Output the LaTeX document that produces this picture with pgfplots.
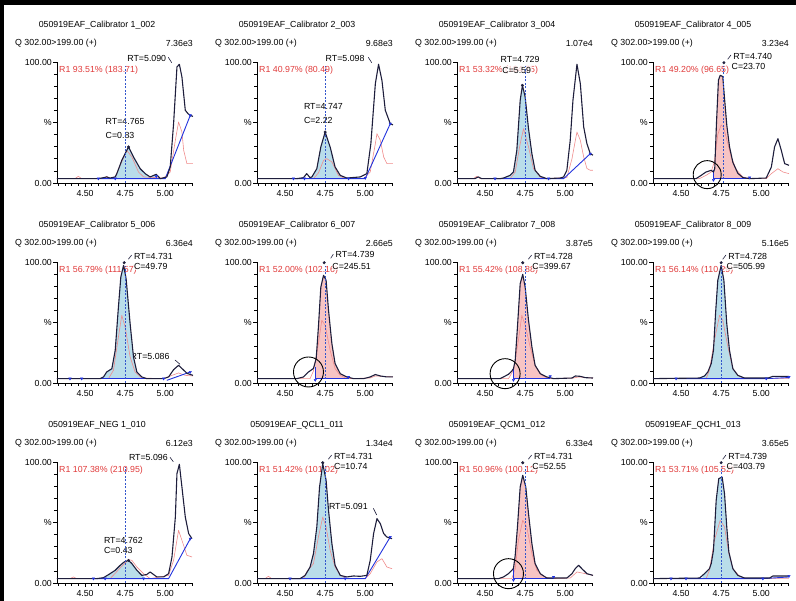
\documentclass[border=0pt]{standalone}
\usepackage{fontspec}
\setmainfont{Liberation Sans}
\usepackage{pgfplots}
\pgfplotsset{compat=1.18}
\definecolor{trace}{HTML}{1E1E3C}
\definecolor{qual}{HTML}{F08C8C}
\definecolor{bl}{HTML}{2233DD}
\definecolor{fillb}{HTML}{B9DDEA}
\definecolor{fillp}{HTML}{F7C4C4}
\definecolor{rtext}{HTML}{E03A3A}
\definecolor{dashc}{HTML}{3355CC}
\newcommand\fs{\fontsize{8.8}{10}\selectfont}
\newcommand\px[2]{({#1},{601-(#2)})}
\tikzset{lab/.style={font=\fs, inner sep=0pt, text=black},
 ann/.style={lab, anchor=west, fill=white, fill opacity=0.75, text opacity=1, inner sep=0.5pt}}
\newcommand\ptext[5]{%
  \node[lab] at \px{#1+97}{#2+25} {#3};
  \node[lab,anchor=west] at \px{#1+15}{#2+43} {Q 302.00>199.00 (+)};
  \node[lab,anchor=east] at \px{#1+193}{#2+43} {#4};
  \node[lab,anchor=west,text=rtext] at \px{#1+59}{#2+70} {#5};
}
\pgfplotsset{
 chrom/.style={
  scale only axis, width=136pt, height=121pt, anchor=south west,
  xmin=4.325, xmax=5.173, ymin=0, ymax=100,
  axis x line*=bottom, axis y line*=left,
  axis line style={black, line width=0.8pt, -},
  xtick={4.5,4.75,5.0}, xticklabels={4.50,4.75,5.00},
  minor xtick={4.3333,4.375,4.4167,4.4583,4.5417,4.5833,4.625,4.6667,4.7083,4.7917,4.8333,4.875,4.9167,4.9583,5.0417,5.0833,5.125,5.1667},
  ytick={0,50,100}, yticklabels={0.00,\%,100.00},
  minor ytick={10,20,30,40,60,70,80,90},
  tick align=outside, major tick length=4pt, minor tick length=3pt,
  tick style={black, line width=0.6pt},
  ticklabel style={font=\fs},
  yticklabel style={inner sep=1pt},
  /pgf/number format/assume math mode=true,
  clip=false},
 tr/.style={color=trace, line width=1.1pt, line join=round},
 qu/.style={color=qual, line width=0.6pt, line join=round},
 bs/.style={color=bl, line width=0.9pt},
 fb/.style={fill=fillb, draw=none},
 fp/.style={fill=fillp, draw=none},
 ds/.style={color=dashc, line width=0.6pt, dash pattern=on 2pt off 1.5pt},
 pk/.style={only marks, mark=*, mark size=1.3pt, color=trace},
 bm/.style={only marks, mark=triangle*, mark size=1.4pt, color=bl, mark options={rotate=180}},
}
\begin{document}
\begin{tikzpicture}[x=1pt,y=1pt]
\useasboundingbox (0,0) rectangle (796,601);
\fill[black] (0,596) rectangle (796,601);
\fill[black] (0,0) rectangle (4,601);
% ---------- texts ----------
\ptext{0}{0}{050919EAF\_Calibrator 1\_002}{7.36e3}{R1 93.51\% (183.71)}
\ptext{200}{0}{050919EAF\_Calibrator 2\_003}{9.68e3}{R1 40.97\% (80.49)}
\ptext{400}{0}{050919EAF\_Calibrator 3\_004}{1.07e4}{R1 53.32\% (104.75)}
\ptext{596}{0}{050919EAF\_Calibrator 4\_005}{3.23e4}{R1 49.20\% (96.65)}
\ptext{0}{200}{050919EAF\_Calibrator 5\_006}{6.36e4}{R1 56.79\% (111.57)}
\ptext{200}{200}{050919EAF\_Calibrator 6\_007}{2.66e5}{R1 52.00\% (102.16)}
\ptext{400}{200}{050919EAF\_Calibrator 7\_008}{3.87e5}{R1 55.42\% (108.88)}
\ptext{596}{200}{050919EAF\_Calibrator 8\_009}{5.16e5}{R1 56.14\% (110.29)}
\ptext{0}{400}{050919EAF\_NEG 1\_010}{6.12e3}{R1 107.38\% (210.95)}
\ptext{200}{400}{050919EAF\_QCL1\_011}{1.34e4}{R1 51.42\% (101.02)}
\ptext{400}{400}{050919EAF\_QCM1\_012}{6.33e4}{R1 50.96\% (100.12)}
\ptext{596}{400}{050919EAF\_QCH1\_013}{3.65e5}{R1 53.71\% (105.52)}
% annotations
\node[ann] at \px{126.7}{58.3} {RT=5.090};
\draw[trace,line width=0.6pt] \px{168.3}{57.3} -- \px{171.7}{62.7};
\node[ann] at \px{105}{121.7} {RT=4.765};
\node[ann] at \px{105}{135} {C=0.83};
\node[ann] at \px{325}{58.3} {RT=5.098};
\draw[trace,line width=0.6pt] \px{368.3}{57.3} -- \px{371.7}{62.7};
\node[ann] at \px{303.3}{106.7} {RT=4.747};
\node[ann] at \px{303.3}{120} {C=2.22};
\node[ann] at \px{500}{59.3} {RT=4.729};
\node[ann] at \px{501.7}{70} {C=5.59};
\node[ann] at \px{732.7}{56} {RT=4.740};
\draw[trace,line width=0.6pt] \px{727.7}{59.3} -- \px{731}{55};
\node[ann] at \px{731}{66.7} {C=23.70};
\node[ann] at \px{133.3}{256} {RT=4.731};
\draw[trace,line width=0.6pt] \px{128.3}{259.3} -- \px{131.7}{255};
\node[ann] at \px{133.3}{266.7} {C=49.79};
\node[ann] at \px{130}{356.7} {RT=5.086};
\draw[trace,line width=0.6pt] \px{175}{360} -- \px{180}{364.3};
\node[ann] at \px{335}{254.3} {RT=4.739};
\draw[trace,line width=0.6pt] \px{330.7}{258.3} -- \px{333.3}{254.3};
\node[ann] at \px{331.7}{266.7} {C=245.51};
\node[ann] at \px{533.3}{256} {RT=4.728};
\draw[trace,line width=0.6pt] \px{528.3}{259.3} -- \px{531.7}{255};
\node[ann] at \px{531.7}{266.7} {C=399.67};
\node[ann] at \px{727.7}{256} {RT=4.728};
\draw[trace,line width=0.6pt] \px{722.7}{259.3} -- \px{726}{255};
\node[ann] at \px{726}{266.7} {C=505.99};
\node[ann] at \px{128.3}{457.3} {RT=5.096};
\draw[trace,line width=0.6pt] \px{170}{457.3} -- \px{173.3}{461.7};
\node[ann] at \px{103.3}{540} {RT=4.762};
\node[ann] at \px{103.3}{550} {C=0.43};
\node[ann] at \px{333.3}{456} {RT=4.731};
\draw[trace,line width=0.6pt] \px{328.3}{459.3} -- \px{331.7}{455};
\node[ann] at \px{333.3}{466.7} {C=10.74};
\node[ann] at \px{328.3}{506.7} {RT=5.091};
\draw[trace,line width=0.6pt] \px{373.3}{508.3} -- \px{376.7}{515};
\node[ann] at \px{533.3}{456} {RT=4.731};
\draw[trace,line width=0.6pt] \px{528.3}{459.3} -- \px{531.7}{455};
\node[ann] at \px{531.7}{466.7} {C=52.55};
\node[ann] at \px{727.7}{456} {RT=4.739};
\draw[trace,line width=0.6pt] \px{722.7}{459.3} -- \px{726}{455};
\node[ann] at \px{726}{466.7} {C=403.79};
% ---------- Panel 1 ----------
\begin{axis}[chrom, at={(57pt,418pt)}]
\addplot[fb] coordinates {(4.688,3.6)(4.698,7.7)(4.729,18.7)(4.771,29.8)(4.802,21.5)(4.844,11.8)(4.875,7.7)(4.906,5.0)(4.944,7.2)(4.944,3.6)} --cycle;
\addplot[qu] coordinates {(4.325,3.6)(4.437,3.6)(4.458,5.5)(4.479,3.6)(4.615,3.6)(4.635,5.5)(4.656,3.6)(4.688,5.0)(4.719,14.6)(4.760,27.0)(4.792,21.5)(4.833,9.1)(4.865,5.0)(4.990,4.1)(5.031,9.1)(5.063,35.3)(5.083,50.4)(5.104,42.1)(5.115,27.0)(5.135,16.0)(5.156,16.0)(5.173,16.0)};
\addplot[bs] coordinates {(4.583,3.6)(5.000,3.6)(5.156,55.9)};
\addplot[tr] coordinates {(4.325,3.6)(4.583,3.6)(4.615,4.4)(4.635,5.0)(4.656,4.1)(4.688,5.0)(4.698,7.7)(4.729,18.7)(4.771,29.8)(4.802,21.5)(4.844,11.8)(4.875,7.7)(4.906,5.0)(4.944,7.2)(4.969,3.6)(5.010,5.0)(5.031,13.2)(5.052,49.0)(5.073,95.9)(5.088,98.1)(5.104,87.6)(5.125,60.1)(5.142,57.3)(5.156,55.9)(5.173,55.0)};
\addplot[ds] coordinates {(4.75,0)(4.75,97)};
\addplot[pk] coordinates {(4.771,29.8)};
\addplot[bm] coordinates {(4.583,3.6)(4.688,3.6)(4.944,5.5)(5.156,55.9)};
\end{axis}
% ---------- Panel 2 ----------
\begin{axis}[chrom, at={(257pt,418pt)}]
\addplot[fb] coordinates {(4.667,3.6)(4.667,5.0)(4.698,11.8)(4.723,29.8)(4.750,42.1)(4.781,29.8)(4.812,13.2)(4.844,6.3)(4.885,4.1)(4.896,3.6)} --cycle;
\addplot[qu] coordinates {(4.325,3.6)(4.677,3.6)(4.708,8.3)(4.740,18.7)(4.760,20.1)(4.792,17.4)(4.833,6.3)(4.875,3.6)(4.990,3.6)(5.031,9.1)(5.063,32.5)(5.073,40.8)(5.094,35.3)(5.115,21.5)(5.135,16.0)(5.173,16.0)};
\addplot[bs] coordinates {(4.552,3.6)(5.000,3.6)(5.156,49.0)};
\addplot[tr] coordinates {(4.325,3.6)(4.573,3.6)(4.615,4.4)(4.635,7.7)(4.656,4.4)(4.667,5.0)(4.698,11.8)(4.723,29.8)(4.750,42.1)(4.781,29.8)(4.812,13.2)(4.844,6.3)(4.885,4.1)(4.969,5.0)(5.010,7.7)(5.035,32.5)(5.063,82.1)(5.083,98.1)(5.104,84.8)(5.125,60.1)(5.156,49.0)(5.173,48.0)};
\addplot[ds] coordinates {(4.75,0)(4.75,97)};
\addplot[pk] coordinates {(4.750,42.1)};
\addplot[bm] coordinates {(4.552,3.6)(4.621,3.6)(4.896,3.6)(5.000,4.1)(5.156,49.0)};
\end{axis}
% ---------- Panel 3 ----------
\begin{axis}[chrom, at={(457pt,418pt)}]
\addplot[fb] coordinates {(4.615,3.6)(4.615,4.1)(4.656,6.3)(4.677,9.1)(4.698,27.0)(4.719,68.3)(4.733,80.7)(4.750,71.1)(4.771,44.9)(4.792,24.2)(4.812,10.5)(4.844,5.5)(4.885,3.6)} --cycle;
\addplot[qu] coordinates {(4.325,3.6)(4.427,3.6)(4.448,5.5)(4.469,3.6)(4.656,3.6)(4.688,9.1)(4.719,32.5)(4.740,44.9)(4.771,29.8)(4.802,11.8)(4.844,5.0)(4.875,3.6)(5.010,4.4)(5.042,20.1)(5.063,35.3)(5.073,42.1)(5.094,35.3)(5.115,21.5)(5.135,12.0)(5.156,10.5)(5.173,10.5)};
\addplot[bs] coordinates {(4.562,3.6)(4.990,3.6)(5.156,24.2)};
\addplot[tr] coordinates {(4.325,3.6)(4.437,3.6)(4.458,5.0)(4.479,3.6)(4.594,3.6)(4.615,4.1)(4.656,6.3)(4.677,9.1)(4.698,27.0)(4.719,68.3)(4.733,80.7)(4.750,71.1)(4.771,44.9)(4.792,24.2)(4.812,10.5)(4.844,5.5)(4.885,3.6)(4.969,4.1)(4.990,5.0)(5.010,10.5)(5.031,35.3)(5.048,68.3)(5.073,98.1)(5.094,82.1)(5.115,46.3)(5.135,32.5)(5.156,24.2)(5.173,23.0)};
\addplot[ds] coordinates {(4.75,0)(4.75,97)};
\addplot[pk] coordinates {(4.733,80.7)};
\addplot[bm] coordinates {(4.562,3.6)(4.896,3.6)(5.156,24.2)};
\end{axis}
% ---------- Panel 4 ----------
\begin{axis}[chrom, at={(653pt,418pt)}]
\addplot[fp] coordinates {(4.702,3.6)(4.702,9.0)(4.710,12.0)(4.721,50.0)(4.733,85.0)(4.744,89.0)(4.760,88.0)(4.771,70.0)(4.785,48.0)(4.802,30.0)(4.823,17.0)(4.854,8.0)(4.885,4.5)(4.927,3.6)} --cycle;
\addplot[qu] coordinates {(4.325,3.6)(4.615,3.6)(4.656,6.3)(4.688,9.1)(4.708,18.0)(4.729,40.0)(4.750,48.0)(4.765,46.0)(4.785,36.0)(4.812,22.0)(4.844,11.0)(4.885,5.0)(4.927,3.6)(5.031,3.6)(5.063,7.7)(5.104,11.8)(5.135,9.1)(5.173,7.7)};
\addplot[bs] coordinates {(4.702,10.5)(4.702,3.6)(4.927,3.6)};
\addplot[tr] coordinates {(4.325,3.6)(4.594,3.6)(4.625,6.3)(4.656,9.1)(4.688,10.5)(4.702,9.0)(4.710,12.0)(4.721,50.0)(4.733,85.0)(4.744,89.0)(4.760,88.0)(4.771,70.0)(4.785,48.0)(4.802,30.0)(4.823,17.0)(4.854,8.0)(4.885,4.5)(4.927,3.6)(5.031,4.1)(5.063,13.2)(5.083,29.8)(5.104,36.6)(5.125,27.0)(5.146,16.0)(5.173,14.6)};
\addplot[ds] coordinates {(4.765,0)(4.765,97)};
\addplot[pk] coordinates {(4.767,99.4)};
\addplot[bm] coordinates {(4.702,2.5)(4.927,4.5)};
\draw[black, line width=0.9pt] (axis cs:4.663,6.9) circle[radius=14pt];
\end{axis}
% ---------- Panel 5 ----------
\begin{axis}[chrom, at={(57pt,218pt)}]
\addplot[fb] coordinates {(4.594,3.6)(4.615,5.0)(4.635,9.1)(4.667,11.8)(4.688,27.0)(4.708,62.8)(4.723,87.6)(4.740,97.2)(4.756,86.2)(4.781,49.0)(4.802,21.5)(4.823,9.1)(4.854,5.0)(4.854,3.6)} --cycle;
\addplot[qu] coordinates {(4.325,3.6)(4.646,3.6)(4.677,10.5)(4.708,38.0)(4.729,55.9)(4.750,46.3)(4.781,21.5)(4.812,9.1)(4.854,4.1)(4.990,3.6)(5.042,6.3)(5.083,8.3)(5.125,6.3)(5.173,5.8)};
\addplot[bs] coordinates {(4.469,3.6)(4.990,3.6)};
\addplot[bs] coordinates {(5.010,2.2)(5.156,9.1)};
\addplot[tr] coordinates {(4.325,3.6)(4.594,3.6)(4.615,5.0)(4.635,9.1)(4.667,11.8)(4.688,27.0)(4.708,62.8)(4.723,87.6)(4.740,97.2)(4.756,86.2)(4.781,49.0)(4.802,21.5)(4.823,9.1)(4.854,5.0)(4.885,3.6)(4.990,3.6)(5.021,5.0)(5.052,11.0)(5.083,14.6)(5.104,12.0)(5.135,8.0)(5.173,6.3)};
\addplot[ds] coordinates {(4.75,0)(4.75,97)};
\addplot[pk] coordinates {(4.744,99.4)};
\addplot[bm] coordinates {(4.406,3.6)(4.479,3.6)(4.990,3.6)(5.156,9.1)};
\end{axis}
% ---------- Panel 6 ----------
\begin{axis}[chrom, at={(257pt,218pt)}]
\addplot[fp] coordinates {(4.688,3.6)(4.688,15.0)(4.694,20.1)(4.708,46.3)(4.723,79.3)(4.740,89.0)(4.756,84.8)(4.771,60.1)(4.792,32.5)(4.812,16.0)(4.844,7.7)(4.885,5.0)(4.896,4.5)(4.896,3.6)} --cycle;
\addplot[qu] coordinates {(4.325,3.6)(4.656,3.6)(4.677,9.9)(4.708,32.5)(4.729,51.8)(4.750,47.7)(4.781,27.0)(4.812,11.8)(4.844,6.3)(4.885,3.6)(5.031,4.1)(5.063,5.8)(5.173,5.0)};
\addplot[bs] coordinates {(4.688,13.0)(4.688,3.6)(4.896,3.6)};
\addplot[tr] coordinates {(4.325,3.6)(4.573,3.6)(4.615,5.0)(4.646,9.1)(4.677,12.0)(4.694,20.1)(4.708,46.3)(4.723,79.3)(4.740,89.0)(4.756,84.8)(4.771,60.1)(4.792,32.5)(4.812,16.0)(4.844,7.7)(4.885,5.0)(4.927,3.6)(4.990,3.6)(5.031,5.0)(5.063,7.0)(5.094,5.8)(5.135,5.0)(5.173,5.0)};
\addplot[ds] coordinates {(4.75,0)(4.75,97)};
\addplot[pk] coordinates {(4.744,99.4)};
\addplot[bm] coordinates {(4.688,2.5)(4.896,5.0)};
\draw[black, line width=0.9pt] (axis cs:4.646,9.1) circle[radius=15pt];
\end{axis}
% ---------- Panel 7 ----------
\begin{axis}[chrom, at={(457pt,218pt)}]
\addplot[fp] coordinates {(4.677,3.6)(4.677,11.8)(4.688,18.7)(4.702,46.3)(4.719,82.1)(4.735,89.8)(4.750,79.3)(4.771,51.8)(4.792,29.8)(4.812,14.6)(4.844,7.7)(4.885,5.0)(4.906,4.4)(4.906,3.6)} --cycle;
\addplot[qu] coordinates {(4.325,3.6)(4.646,3.6)(4.677,10.5)(4.708,35.3)(4.729,55.9)(4.750,48.0)(4.781,29.8)(4.812,14.6)(4.854,6.3)(4.896,3.6)(5.052,4.1)(5.083,5.0)(5.173,4.1)};
\addplot[bs] coordinates {(4.677,11.8)(4.677,3.6)(4.906,3.6)};
\addplot[tr] coordinates {(4.325,3.6)(4.594,3.6)(4.615,5.0)(4.646,7.2)(4.667,9.9)(4.677,11.8)(4.688,18.7)(4.702,46.3)(4.719,82.1)(4.735,89.8)(4.750,79.3)(4.771,51.8)(4.792,29.8)(4.812,14.6)(4.844,7.7)(4.885,5.0)(4.927,3.6)(5.042,4.1)(5.063,5.8)(5.094,5.5)(5.125,4.4)(5.173,4.1)};
\addplot[ds] coordinates {(4.75,0)(4.75,97)};
\addplot[pk] coordinates {(4.735,99.4)};
\addplot[bm] coordinates {(4.677,2.5)(4.906,5.5)};
\draw[black, line width=0.9pt] (axis cs:4.625,7.7) circle[radius=15pt];
\end{axis}
% ---------- Panel 8 ----------
\begin{axis}[chrom, at={(653pt,218pt)}]
\addplot[fb] coordinates {(4.625,3.6)(4.625,4.5)(4.646,5.8)(4.667,9.1)(4.688,16.0)(4.702,27.0)(4.715,57.3)(4.729,84.8)(4.750,97.2)(4.767,84.8)(4.785,49.0)(4.802,27.0)(4.823,11.8)(4.854,6.3)(4.896,4.1)(4.896,3.6)} --cycle;
\addplot[qu] coordinates {(4.325,3.6)(4.656,3.6)(4.677,10.5)(4.708,35.3)(4.740,55.9)(4.760,51.8)(4.792,29.8)(4.823,11.8)(4.854,6.3)(4.896,3.6)(5.173,3.6)};
\addplot[bs] coordinates {(4.469,3.6)(5.031,3.6)(5.173,4.5)};
\addplot[tr] coordinates {(4.325,3.6)(4.615,4.1)(4.646,5.8)(4.667,9.1)(4.688,16.0)(4.702,27.0)(4.715,57.3)(4.729,84.8)(4.750,97.2)(4.767,84.8)(4.785,49.0)(4.802,27.0)(4.823,11.8)(4.854,6.3)(4.896,4.1)(5.042,4.1)(5.073,5.5)(5.173,5.5)};
\addplot[ds] coordinates {(4.75,0)(4.75,97)};
\addplot[pk] coordinates {(4.750,99.4)};
\addplot[bm] coordinates {(4.469,3.6)(5.031,3.6)(5.173,5.0)};
\end{axis}
% ---------- Panel 9 ----------
\begin{axis}[chrom, at={(57pt,18pt)}]
\addplot[fb] coordinates {(4.625,3.6)(4.625,4.8)(4.656,7.7)(4.688,10.5)(4.719,14.6)(4.744,17.4)(4.771,18.7)(4.792,16.0)(4.823,10.5)(4.854,6.3)(4.865,6.5)(4.865,3.6)} --cycle;
\addplot[qu] coordinates {(4.325,3.6)(4.406,3.6)(4.427,5.0)(4.448,3.6)(4.656,3.6)(4.688,8.0)(4.719,12.5)(4.771,19.3)(4.792,18.7)(4.823,13.2)(4.865,7.7)(4.906,3.6)(5.021,6.3)(5.052,18.7)(5.083,43.5)(5.104,35.3)(5.135,22.9)(5.167,21.5)};
\addplot[bs] coordinates {(4.552,3.6)(5.021,3.6)(5.156,36.6)};
\addplot[tr] coordinates {(4.325,3.6)(4.573,3.6)(4.615,4.4)(4.656,7.7)(4.688,10.5)(4.719,14.6)(4.744,17.4)(4.771,18.7)(4.792,16.0)(4.823,10.5)(4.854,6.3)(4.885,7.0)(4.906,9.1)(4.927,7.0)(4.948,5.0)(4.990,5.0)(5.021,7.7)(5.042,21.5)(5.063,54.5)(5.073,90.4)(5.088,98.1)(5.104,79.3)(5.125,54.5)(5.146,40.8)(5.167,36.6)};
\addplot[ds] coordinates {(4.75,0)(4.75,96)};
\addplot[pk] coordinates {(4.771,18.7)};
\addplot[bm] coordinates {(4.552,3.6)(4.625,3.6)(4.865,3.6)(5.156,36.6)};
\end{axis}
% ---------- Panel 10 ----------
\begin{axis}[chrom, at={(257pt,18pt)}]
\addplot[fb] coordinates {(4.594,3.6)(4.625,6.3)(4.656,13.2)(4.677,24.2)(4.698,46.3)(4.715,79.3)(4.735,98.6)(4.756,84.8)(4.771,60.1)(4.792,32.5)(4.812,14.6)(4.844,6.3)(4.875,5.0)(4.875,3.6)} --cycle;
\addplot[qu] coordinates {(4.325,3.6)(4.375,3.6)(4.396,5.5)(4.417,3.6)(4.615,3.6)(4.635,9.1)(4.677,16.0)(4.708,38.0)(4.735,54.5)(4.756,46.3)(4.781,27.0)(4.812,13.2)(4.844,6.3)(4.885,3.6)(5.000,3.6)(5.031,7.7)(5.073,17.4)(5.104,20.1)(5.135,13.2)(5.167,11.8)};
\addplot[bs] coordinates {(4.531,3.6)(5.000,3.6)(5.156,38.0)};
\addplot[tr] coordinates {(4.325,3.6)(4.594,3.6)(4.625,6.3)(4.656,13.2)(4.677,24.2)(4.698,46.3)(4.715,79.3)(4.735,98.6)(4.756,84.8)(4.771,60.1)(4.792,32.5)(4.812,14.6)(4.844,6.3)(4.885,5.0)(4.927,5.8)(4.969,5.5)(5.010,6.3)(5.031,18.7)(5.052,40.8)(5.073,53.2)(5.094,49.0)(5.115,40.8)(5.135,38.0)(5.167,36.6)};
\addplot[ds] coordinates {(4.75,0)(4.75,97)};
\addplot[pk] coordinates {(4.735,99.4)};
\addplot[bm] coordinates {(4.531,3.6)(4.875,3.6)(5.156,38.0)};
\end{axis}
% ---------- Panel 11 ----------
\begin{axis}[chrom, at={(457pt,18pt)}]
\addplot[fp] coordinates {(4.677,3.6)(4.677,12.0)(4.688,22.9)(4.702,46.3)(4.719,79.3)(4.735,89.0)(4.754,79.3)(4.771,57.3)(4.792,32.5)(4.812,16.0)(4.844,7.7)(4.885,4.1)(4.927,3.8)(4.927,3.6)} --cycle;
\addplot[qu] coordinates {(4.325,3.6)(4.667,3.6)(4.688,11.8)(4.708,35.3)(4.735,51.8)(4.760,46.3)(4.792,24.2)(4.823,10.5)(4.865,5.5)(4.906,3.6)(5.031,4.1)(5.073,9.1)(5.104,8.3)(5.173,6.3)};
\addplot[bs] coordinates {(4.677,12.0)(4.677,3.6)(4.927,3.6)};
\addplot[tr] coordinates {(4.325,3.6)(4.583,3.6)(4.615,5.0)(4.646,7.7)(4.667,10.5)(4.677,12.0)(4.688,22.9)(4.702,46.3)(4.719,79.3)(4.735,89.0)(4.754,79.3)(4.771,57.3)(4.792,32.5)(4.812,16.0)(4.844,7.7)(4.885,4.1)(5.010,4.1)(5.042,7.7)(5.063,12.0)(5.083,14.6)(5.104,11.8)(5.135,7.7)(5.173,6.3)};
\addplot[ds] coordinates {(4.75,0)(4.75,97)};
\addplot[pk] coordinates {(4.735,99.4)};
\addplot[bm] coordinates {(4.677,2.5)(4.927,5.0)};
\draw[black, line width=0.9pt] (axis cs:4.646,7.7) circle[radius=15pt];
\end{axis}
% ---------- Panel 12 ----------
\begin{axis}[chrom, at={(653pt,18pt)}]
\addplot[fb] coordinates {(4.635,3.6)(4.635,6.0)(4.646,7.7)(4.677,11.8)(4.688,16.0)(4.702,27.0)(4.719,68.3)(4.735,86.2)(4.756,87.6)(4.771,73.8)(4.785,46.3)(4.798,25.6)(4.823,11.8)(4.854,6.3)(4.896,4.1)(4.896,3.6)} --cycle;
\addplot[qu] coordinates {(4.325,3.6)(4.656,3.6)(4.677,10.5)(4.708,35.3)(4.744,51.8)(4.771,46.3)(4.798,24.2)(4.823,11.8)(4.865,5.5)(4.906,3.6)(5.173,3.6)};
\addplot[bs] coordinates {(4.437,3.6)(5.010,3.6)(5.173,5.0)};
\addplot[tr] coordinates {(4.325,3.6)(4.615,4.1)(4.646,7.7)(4.677,11.8)(4.688,16.0)(4.702,27.0)(4.719,68.3)(4.735,86.2)(4.756,87.6)(4.771,73.8)(4.785,46.3)(4.798,25.6)(4.823,11.8)(4.854,6.3)(4.896,4.1)(5.052,4.1)(5.073,5.8)(5.173,5.8)};
\addplot[ds] coordinates {(4.75,0)(4.75,97)};
\addplot[pk] coordinates {(4.750,99.4)};
\addplot[bm] coordinates {(4.437,3.6)(4.531,3.6)(5.010,3.6)(5.173,5.8)};
\end{axis}
\end{tikzpicture}
\end{document}
